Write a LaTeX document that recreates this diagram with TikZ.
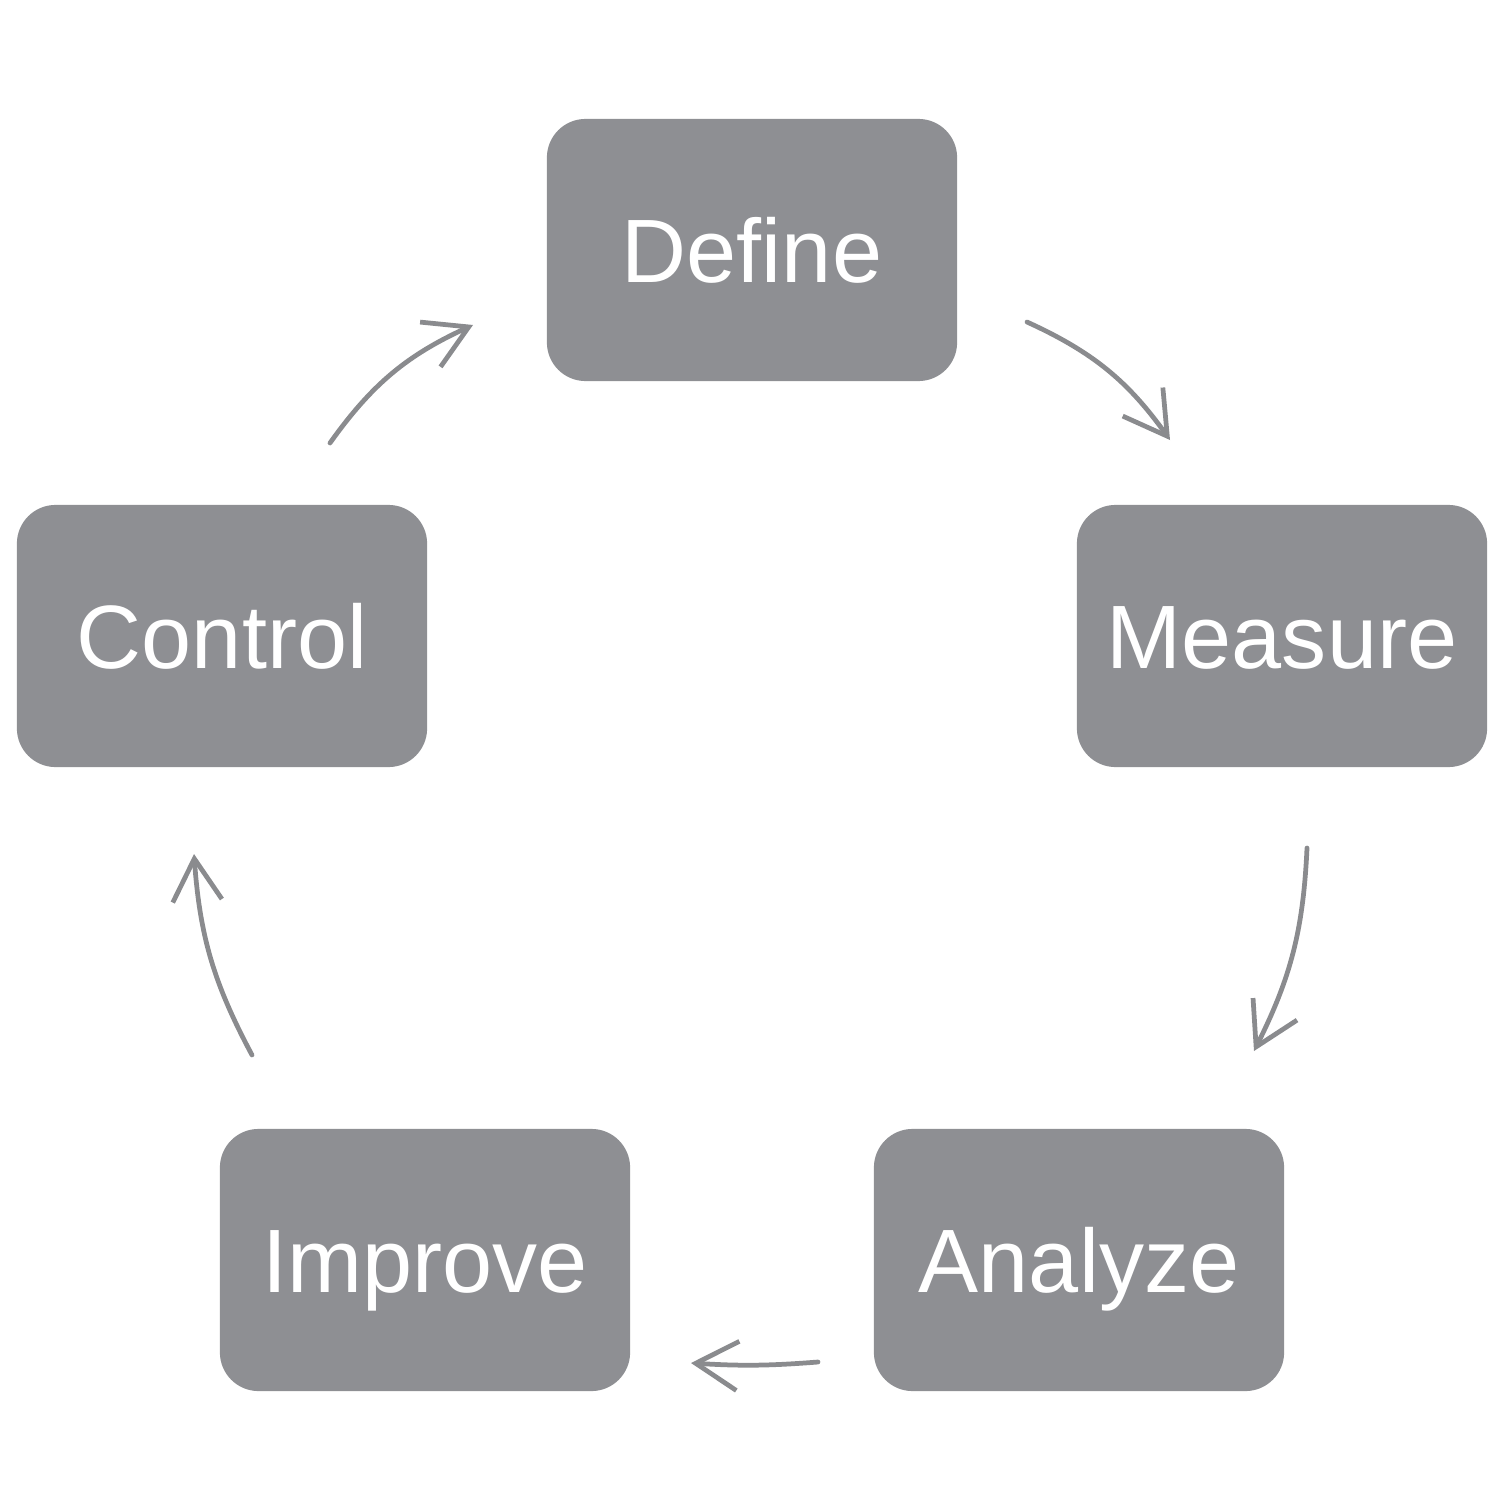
\documentclass[tikz,border=0pt]{standalone}
\usepackage{fontspec}
\setmainfont{Liberation Sans}
\usetikzlibrary{arrows.meta}
\definecolor{boxgray}{HTML}{8E8F93}
\definecolor{arrgray}{HTML}{8A8B8E}
\begin{document}
\begin{tikzpicture}[x=0.01cm,y=-0.01cm,
  stagebox/.style={fill=boxgray, draw=none, rounded corners=11pt,
    minimum width=4.1cm, minimum height=2.62cm, inner sep=0pt,
    text=white, font=\fontsize{25.6pt}{30pt}\selectfont,
    text height=18.3pt, text depth=0pt},
  cyc/.style={draw=arrgray, line width=1.35pt, line cap=round,
    -{Straight Barb[length=12pt,width=14pt,line width=1.35pt]}}]
\useasboundingbox (0,0) rectangle (1500,1500);
\node[stagebox] (define)  at (752,250)  {Define};
\node[stagebox] (measure) at (1282,636) {Measure};
\node[stagebox] (control) at (222,636)  {Control};
\node[stagebox] (improve) at (425,1260) {Improve};
\node[stagebox] (analyze) at (1079,1260) {Analyze};
\coordinate (a1s) at (1027,322);  \coordinate (a1e) at (1170,440);
\coordinate (a2s) at (1307,848);  \coordinate (a2e) at (1254,1051);
\coordinate (a3s) at (818,1362);  \coordinate (a3e) at (691,1363);
\coordinate (a4s) at (252,1055);  \coordinate (a4e) at (194,854);
\coordinate (a5s) at (330,443);   \coordinate (a5e) at (473,325);
\draw[cyc] (a1s) to[bend left=15] (a1e);
\draw[cyc] (a2s) to[bend left=12] (a2e);
\draw[cyc] (a3s) to[bend left=4] (a3e);
\draw[cyc] (a4s) to[bend left=12] (a4e);
\draw[cyc] (a5s) to[bend left=15] (a5e);
\end{tikzpicture}
\end{document}
